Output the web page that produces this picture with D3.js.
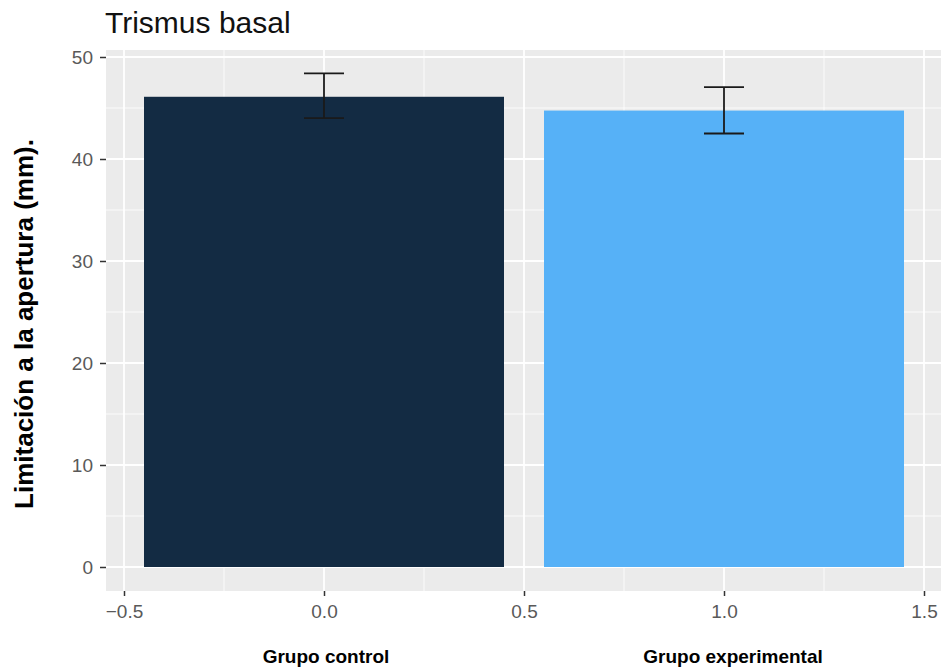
<!DOCTYPE html>
<html>
<head>
<meta charset="utf-8">
<script src="https://cdn.jsdelivr.net/npm/d3@7"></script>
<style>
  html, body { margin: 0; padding: 0; background: #fff; }
  svg { display: block; font-family: "Liberation Sans", Arial, sans-serif; }
</style>
</head>
<body>
<svg id="chart" width="941" height="670"></svg>
<script>
// Group means and error-bar limits (mm)
const groups = ["Grupo control", "Grupo experimental"];
const positions = [0, 1];
const means = [46.1, 44.75];
const lower = [44.0, 42.5];
const upper = [48.4, 47.05];
const barColors = ["#132B43", "#56B1F7"];
const xTicks = [-0.5, 0, 0.5, 1, 1.5];
const xMinor = [-0.25, 0.25, 0.75, 1.25];
const yTicks = [0, 10, 20, 30, 40, 50];
const yMinor = [5, 15, 25, 35, 45];

const svg = d3.select("#chart");
const panel = { left: 106, right: 944, top: 50, bottom: 591 };

const x = d3.scaleLinear().domain([-0.5, 1.5]).range([124, 924]);
const y = d3.scaleLinear().domain([0, 50]).range([567, 57]);

// panel background
svg.append("rect")
  .attr("x", panel.left).attr("y", panel.top)
  .attr("width", panel.right - panel.left).attr("height", panel.bottom - panel.top)
  .attr("fill", "#EBEBEB");

const grid = svg.append("g");
// minor grid
grid.selectAll(".ymin").data(yMinor).join("line")
  .attr("x1", panel.left).attr("x2", panel.right)
  .attr("y1", d => y(d)).attr("y2", d => y(d))
  .attr("stroke", "#fff").attr("stroke-width", 0.8);
grid.selectAll(".xmin").data(xMinor).join("line")
  .attr("y1", panel.top).attr("y2", panel.bottom)
  .attr("x1", d => x(d)).attr("x2", d => x(d))
  .attr("stroke", "#fff").attr("stroke-width", 0.8);
// major grid
grid.selectAll(".ymaj").data(yTicks).join("line")
  .attr("x1", panel.left).attr("x2", panel.right)
  .attr("y1", d => y(d)).attr("y2", d => y(d))
  .attr("stroke", "#fff").attr("stroke-width", 1.8);
grid.selectAll(".xmaj").data(xTicks).join("line")
  .attr("y1", panel.top).attr("y2", panel.bottom)
  .attr("x1", d => x(d)).attr("x2", d => x(d))
  .attr("stroke", "#fff").attr("stroke-width", 1.8);

// bars
const barHalf = 0.45;
svg.selectAll(".bar").data(positions).join("rect")
  .attr("x", d => x(d - barHalf))
  .attr("width", d => x(d + barHalf) - x(d - barHalf))
  .attr("y", (d, i) => y(means[i]))
  .attr("height", (d, i) => y(0) - y(means[i]))
  .attr("fill", (d, i) => barColors[i]);

// error bars
const capHalf = 0.05;
const eb = svg.selectAll(".eb").data(positions).join("g")
  .attr("stroke", "#1a1a1a").attr("stroke-width", 1.8).attr("fill", "none");
eb.append("line")
  .attr("x1", d => x(d)).attr("x2", d => x(d))
  .attr("y1", (d, i) => y(upper[i])).attr("y2", (d, i) => y(lower[i]));
eb.append("line")
  .attr("x1", d => x(d - capHalf)).attr("x2", d => x(d + capHalf))
  .attr("y1", (d, i) => y(upper[i])).attr("y2", (d, i) => y(upper[i]));
eb.append("line")
  .attr("x1", d => x(d - capHalf)).attr("x2", d => x(d + capHalf))
  .attr("y1", (d, i) => y(lower[i])).attr("y2", (d, i) => y(lower[i]));

// axes
const fmtX = d => d3.format(".1f")(d);
const xAxis = svg.append("g")
  .attr("transform", `translate(0,${panel.bottom})`)
  .call(d3.axisBottom(x).tickValues(xTicks).tickFormat(fmtX).tickSize(5).tickPadding(9));
const yAxis = svg.append("g")
  .attr("transform", `translate(${panel.left},0)`)
  .call(d3.axisLeft(y).tickValues(yTicks).tickSize(6).tickPadding(7));
[xAxis, yAxis].forEach(a => {
  a.select(".domain").remove();
  a.selectAll(".tick line").attr("stroke", "#333").attr("stroke-width", 1.5);
  a.selectAll(".tick text")
    .attr("fill", "#595959")
    .style("font-size", "19px")
    .style("font-family", "Liberation Sans, Arial, sans-serif");
});

// title
svg.append("text")
  .attr("x", 105).attr("y", 33)
  .attr("fill", "#111")
  .style("font-size", "30px")
  .text("Trismus basal");

// y-axis title
svg.append("text")
  .attr("transform", `translate(33,324) rotate(-90)`)
  .attr("text-anchor", "middle")
  .attr("fill", "#000")
  .style("font-size", "26px").style("font-weight", "bold")
  .text("Limitación a la apertura (mm).");

// group labels under the axis
svg.selectAll(".glab").data(positions).join("text")
  .attr("x", (d, i) => i === 0 ? 326 : 733)
  .attr("y", 663)
  .attr("text-anchor", "middle")
  .attr("fill", "#000")
  .style("font-size", "19px").style("font-weight", "bold")
  .text((d, i) => groups[i]);
</script>
</body>
</html>
